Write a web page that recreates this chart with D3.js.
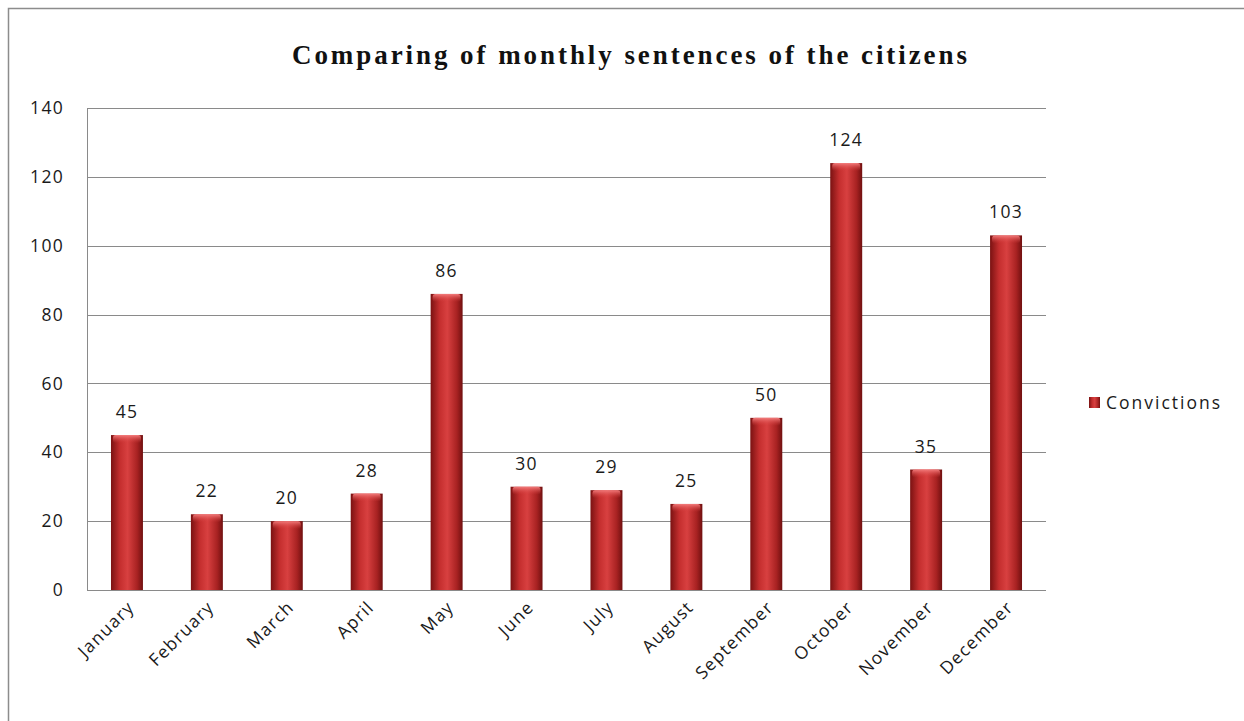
<!DOCTYPE html>
<html>
<head>
<meta charset="utf-8">
<script src="https://cdn.jsdelivr.net/npm/d3@7"></script>
<style>
  body { margin: 0; background: #fff; }
  svg { display: block; }
</style>
</head>
<body>
<svg id="chart"></svg>
<script>
// data
var months = ["January", "February", "March", "April", "May", "June",
              "July", "August", "September", "October", "November", "December"];
var convictions = [45, 22, 20, 28, 86, 30, 29, 25, 50, 124, 35, 103];
var yTicks = [0, 20, 40, 60, 80, 100, 120, 140];
var seriesName = "Convictions";
var chartTitle = "Comparing of monthly sentences of the citizens";

var width = 1244, height = 721;
var plot = { left: 87, top: 108, right: 1046, bottom: 590 };
var labelFont = "Open Sans, sans-serif";
var labelSize = 17.5;
var labelSpacing = 1.3;
var labelColor = "#1a1a1a";

var svg = d3.select("#chart").attr("width", width).attr("height", height);

// gradients for the cylinder look
var defs = svg.append("defs");
var grad = defs.append("linearGradient").attr("id", "barGrad")
    .attr("x1", "0%").attr("x2", "100%").attr("y1", "0%").attr("y2", "0%");
grad.append("stop").attr("offset", "0%").attr("stop-color", "#7a1212");
grad.append("stop").attr("offset", "28%").attr("stop-color", "#c42e2e");
grad.append("stop").attr("offset", "52%").attr("stop-color", "#d84040");
grad.append("stop").attr("offset", "82%").attr("stop-color", "#a82222");
grad.append("stop").attr("offset", "100%").attr("stop-color", "#701010");

var topGrad = defs.append("linearGradient").attr("id", "topGrad")
    .attr("x1", "0%").attr("x2", "0%").attr("y1", "0%").attr("y2", "100%");
topGrad.append("stop").attr("offset", "0%").attr("stop-color", "#f27c7c");
topGrad.append("stop").attr("offset", "100%").attr("stop-color", "#d63c3c").attr("stop-opacity", 0);

// outer frame
svg.append("rect")
    .attr("x", 8.5).attr("y", 8.5)
    .attr("width", width + 10).attr("height", height + 10)
    .attr("fill", "#fff").attr("stroke", "#8c8c8c").attr("stroke-width", 1.5);

var x = d3.scaleBand().domain(months)
    .range([plot.left, plot.right]).paddingInner(0.6).paddingOuter(0.3);
var y = d3.scaleLinear().domain([0, 140]).range([plot.bottom, plot.top]);

// gridlines
svg.append("g").selectAll("line")
    .data(yTicks)
    .join("line")
    .attr("x1", plot.left).attr("x2", plot.right)
    .attr("y1", function(d) { return Math.round(y(d)) + 0.5; })
    .attr("y2", function(d) { return Math.round(y(d)) + 0.5; })
    .attr("stroke", "#8a8a8a").attr("stroke-width", 1);

// plot area left edge
svg.append("line")
    .attr("x1", plot.left + 0.5).attr("x2", plot.left + 0.5)
    .attr("y1", plot.top).attr("y2", plot.bottom)
    .attr("stroke", "#8a8a8a");

// y axis labels
svg.append("g").selectAll("text")
    .data(yTicks)
    .join("text")
    .attr("x", 64).attr("y", function(d) { return y(d); })
    .attr("dy", "0.35em")
    .attr("text-anchor", "end")
    .attr("font-family", labelFont).attr("font-size", labelSize)
    .attr("letter-spacing", labelSpacing)
    .attr("fill", labelColor)
    .text(function(d) { return d; });

// bars
var bars = svg.append("g").selectAll("g")
    .data(months)
    .join("g");

bars.append("rect")
    .attr("x", function(d) { return x(d); })
    .attr("y", function(d, i) { return y(convictions[i]); })
    .attr("width", x.bandwidth())
    .attr("height", function(d, i) { return plot.bottom - y(convictions[i]); })
    .attr("fill", "url(#barGrad)");

bars.append("rect")
    .attr("x", function(d) { return x(d) + 2; })
    .attr("y", function(d, i) { return y(convictions[i]); })
    .attr("width", x.bandwidth() - 4)
    .attr("height", 8)
    .attr("rx", 3)
    .attr("fill", "url(#topGrad)");

// value labels
svg.append("g").selectAll("text")
    .data(months)
    .join("text")
    .attr("x", function(d) { return x(d) + x.bandwidth() / 2; })
    .attr("y", function(d, i) { return y(convictions[i]) - 17; })
    .attr("text-anchor", "middle")
    .attr("font-family", labelFont).attr("font-size", labelSize)
    .attr("letter-spacing", labelSpacing)
    .attr("fill", labelColor)
    .text(function(d, i) { return convictions[i]; });

// x axis labels, rotated
svg.append("g").selectAll("text")
    .data(months)
    .join("text")
    .attr("transform", function(d) {
        return "translate(" + (x(d) + x.bandwidth() / 2 + 4) + "," + (plot.bottom + 14) + ") rotate(-45)";
    })
    .attr("text-anchor", "end")
    .attr("dy", "0.35em")
    .attr("font-family", labelFont).attr("font-size", labelSize)
    .attr("letter-spacing", labelSpacing)
    .attr("fill", labelColor)
    .text(function(d) { return d; });

// title
svg.append("text")
    .attr("x", 292).attr("y", 64)
    .attr("font-family", "Liberation Serif, Times New Roman, serif")
    .attr("font-weight", "bold").attr("font-size", 27)
    .attr("textLength", 675).attr("lengthAdjust", "spacing")
    .attr("fill", "#111")
    .text(chartTitle);

// legend
svg.append("rect")
    .attr("x", 1089).attr("y", 397).attr("width", 11).attr("height", 11)
    .attr("fill", "url(#barGrad)");
svg.append("text")
    .attr("x", 1106).attr("y", 403)
    .attr("dy", "0.35em")
    .attr("font-family", labelFont).attr("font-size", labelSize)
    .attr("letter-spacing", 2)
    .attr("fill", labelColor)
    .text(seriesName);
</script>
</body>
</html>
